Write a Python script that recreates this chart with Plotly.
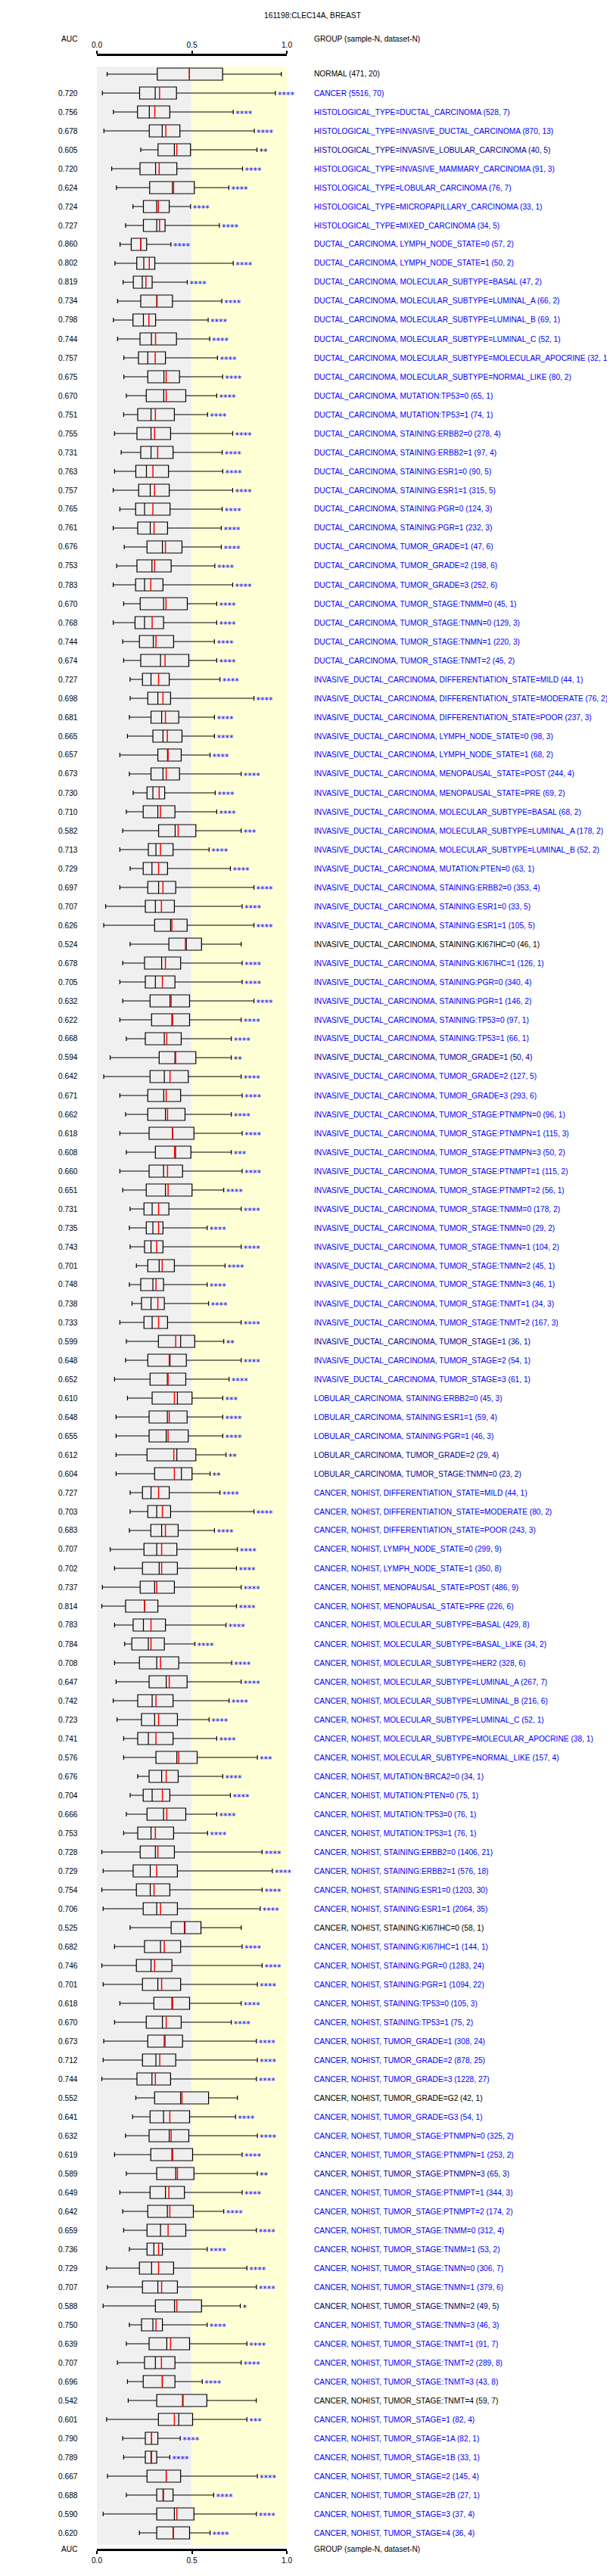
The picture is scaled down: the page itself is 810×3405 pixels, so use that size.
import plotly.graph_objects as go

TITLE = "161198:CLEC14A, BREAST"

groups = [
    "NORMAL", "CANCER",
    "HISTOLOGICAL_TYPE=DUCTAL_CARCINOMA", "HISTOLOGICAL_TYPE=INVASIVE_DUCTAL_CARCINOMA",
    "HISTOLOGICAL_TYPE=INVASIVE_LOBULAR_CARCINOMA", "HISTOLOGICAL_TYPE=INVASIVE_MAMMARY_CARCINOMA",
    "HISTOLOGICAL_TYPE=LOBULAR_CARCINOMA", "HISTOLOGICAL_TYPE=MICROPAPILLARY_CARCINOMA",
    "HISTOLOGICAL_TYPE=MIXED_CARCINOMA",
    "DUCTAL_CARCINOMA, LYMPH_NODE_STATE=0", "DUCTAL_CARCINOMA, LYMPH_NODE_STATE=1",
    "DUCTAL_CARCINOMA, MOLECULAR_SUBTYPE=BASAL", "DUCTAL_CARCINOMA, MOLECULAR_SUBTYPE=LUMINAL_A",
    "DUCTAL_CARCINOMA, MOLECULAR_SUBTYPE=LUMINAL_B", "DUCTAL_CARCINOMA, MOLECULAR_SUBTYPE=LUMINAL_C",
    "DUCTAL_CARCINOMA, MOLECULAR_SUBTYPE=MOLECULAR_APOCRINE", "DUCTAL_CARCINOMA, MOLECULAR_SUBTYPE=NORMAL_LIKE",
    "DUCTAL_CARCINOMA, MUTATION:TP53=0", "DUCTAL_CARCINOMA, MUTATION:TP53=1",
    "DUCTAL_CARCINOMA, STAINING:ERBB2=0", "DUCTAL_CARCINOMA, STAINING:ERBB2=1",
    "DUCTAL_CARCINOMA, STAINING:ESR1=0", "DUCTAL_CARCINOMA, STAINING:ESR1=1",
    "DUCTAL_CARCINOMA, STAINING:PGR=0", "DUCTAL_CARCINOMA, STAINING:PGR=1",
    "DUCTAL_CARCINOMA, TUMOR_GRADE=1", "DUCTAL_CARCINOMA, TUMOR_GRADE=2", "DUCTAL_CARCINOMA, TUMOR_GRADE=3",
    "DUCTAL_CARCINOMA, TUMOR_STAGE:TNMM=0", "DUCTAL_CARCINOMA, TUMOR_STAGE:TNMN=0",
    "DUCTAL_CARCINOMA, TUMOR_STAGE:TNMN=1", "DUCTAL_CARCINOMA, TUMOR_STAGE:TNMT=2",
    "INVASIVE_DUCTAL_CARCINOMA, DIFFERENTIATION_STATE=MILD",
    "INVASIVE_DUCTAL_CARCINOMA, DIFFERENTIATION_STATE=MODERATE",
    "INVASIVE_DUCTAL_CARCINOMA, DIFFERENTIATION_STATE=POOR",
    "INVASIVE_DUCTAL_CARCINOMA, LYMPH_NODE_STATE=0", "INVASIVE_DUCTAL_CARCINOMA, LYMPH_NODE_STATE=1",
    "INVASIVE_DUCTAL_CARCINOMA, MENOPAUSAL_STATE=POST", "INVASIVE_DUCTAL_CARCINOMA, MENOPAUSAL_STATE=PRE",
    "INVASIVE_DUCTAL_CARCINOMA, MOLECULAR_SUBTYPE=BASAL", "INVASIVE_DUCTAL_CARCINOMA, MOLECULAR_SUBTYPE=LUMINAL_A",
    "INVASIVE_DUCTAL_CARCINOMA, MOLECULAR_SUBTYPE=LUMINAL_B", "INVASIVE_DUCTAL_CARCINOMA, MUTATION:PTEN=0",
    "INVASIVE_DUCTAL_CARCINOMA, STAINING:ERBB2=0", "INVASIVE_DUCTAL_CARCINOMA, STAINING:ESR1=0",
    "INVASIVE_DUCTAL_CARCINOMA, STAINING:ESR1=1", "INVASIVE_DUCTAL_CARCINOMA, STAINING:KI67IHC=0",
    "INVASIVE_DUCTAL_CARCINOMA, STAINING:KI67IHC=1", "INVASIVE_DUCTAL_CARCINOMA, STAINING:PGR=0",
    "INVASIVE_DUCTAL_CARCINOMA, STAINING:PGR=1", "INVASIVE_DUCTAL_CARCINOMA, STAINING:TP53=0",
    "INVASIVE_DUCTAL_CARCINOMA, STAINING:TP53=1", "INVASIVE_DUCTAL_CARCINOMA, TUMOR_GRADE=1",
    "INVASIVE_DUCTAL_CARCINOMA, TUMOR_GRADE=2", "INVASIVE_DUCTAL_CARCINOMA, TUMOR_GRADE=3",
    "INVASIVE_DUCTAL_CARCINOMA, TUMOR_STAGE:PTNMPN=0", "INVASIVE_DUCTAL_CARCINOMA, TUMOR_STAGE:PTNMPN=1",
    "INVASIVE_DUCTAL_CARCINOMA, TUMOR_STAGE:PTNMPN=3", "INVASIVE_DUCTAL_CARCINOMA, TUMOR_STAGE:PTNMPT=1",
    "INVASIVE_DUCTAL_CARCINOMA, TUMOR_STAGE:PTNMPT=2", "INVASIVE_DUCTAL_CARCINOMA, TUMOR_STAGE:TNMM=0",
    "INVASIVE_DUCTAL_CARCINOMA, TUMOR_STAGE:TNMN=0", "INVASIVE_DUCTAL_CARCINOMA, TUMOR_STAGE:TNMN=1",
    "INVASIVE_DUCTAL_CARCINOMA, TUMOR_STAGE:TNMN=2", "INVASIVE_DUCTAL_CARCINOMA, TUMOR_STAGE:TNMN=3",
    "INVASIVE_DUCTAL_CARCINOMA, TUMOR_STAGE:TNMT=1", "INVASIVE_DUCTAL_CARCINOMA, TUMOR_STAGE:TNMT=2",
    "INVASIVE_DUCTAL_CARCINOMA, TUMOR_STAGE=1", "INVASIVE_DUCTAL_CARCINOMA, TUMOR_STAGE=2",
    "INVASIVE_DUCTAL_CARCINOMA, TUMOR_STAGE=3",
    "LOBULAR_CARCINOMA, STAINING:ERBB2=0", "LOBULAR_CARCINOMA, STAINING:ESR1=1",
    "LOBULAR_CARCINOMA, STAINING:PGR=1", "LOBULAR_CARCINOMA, TUMOR_GRADE=2",
    "LOBULAR_CARCINOMA, TUMOR_STAGE:TNMN=0",
    "CANCER, NOHIST, DIFFERENTIATION_STATE=MILD", "CANCER, NOHIST, DIFFERENTIATION_STATE=MODERATE",
    "CANCER, NOHIST, DIFFERENTIATION_STATE=POOR", "CANCER, NOHIST, LYMPH_NODE_STATE=0",
    "CANCER, NOHIST, LYMPH_NODE_STATE=1", "CANCER, NOHIST, MENOPAUSAL_STATE=POST",
    "CANCER, NOHIST, MENOPAUSAL_STATE=PRE", "CANCER, NOHIST, MOLECULAR_SUBTYPE=BASAL",
    "CANCER, NOHIST, MOLECULAR_SUBTYPE=BASAL_LIKE", "CANCER, NOHIST, MOLECULAR_SUBTYPE=HER2",
    "CANCER, NOHIST, MOLECULAR_SUBTYPE=LUMINAL_A", "CANCER, NOHIST, MOLECULAR_SUBTYPE=LUMINAL_B",
    "CANCER, NOHIST, MOLECULAR_SUBTYPE=LUMINAL_C", "CANCER, NOHIST, MOLECULAR_SUBTYPE=MOLECULAR_APOCRINE",
    "CANCER, NOHIST, MOLECULAR_SUBTYPE=NORMAL_LIKE", "CANCER, NOHIST, MUTATION:BRCA2=0",
    "CANCER, NOHIST, MUTATION:PTEN=0", "CANCER, NOHIST, MUTATION:TP53=0", "CANCER, NOHIST, MUTATION:TP53=1",
    "CANCER, NOHIST, STAINING:ERBB2=0", "CANCER, NOHIST, STAINING:ERBB2=1",
    "CANCER, NOHIST, STAINING:ESR1=0", "CANCER, NOHIST, STAINING:ESR1=1",
    "CANCER, NOHIST, STAINING:KI67IHC=0", "CANCER, NOHIST, STAINING:KI67IHC=1",
    "CANCER, NOHIST, STAINING:PGR=0", "CANCER, NOHIST, STAINING:PGR=1",
    "CANCER, NOHIST, STAINING:TP53=0", "CANCER, NOHIST, STAINING:TP53=1",
    "CANCER, NOHIST, TUMOR_GRADE=1", "CANCER, NOHIST, TUMOR_GRADE=2", "CANCER, NOHIST, TUMOR_GRADE=3",
    "CANCER, NOHIST, TUMOR_GRADE=G2", "CANCER, NOHIST, TUMOR_GRADE=G3",
    "CANCER, NOHIST, TUMOR_STAGE:PTNMPN=0", "CANCER, NOHIST, TUMOR_STAGE:PTNMPN=1",
    "CANCER, NOHIST, TUMOR_STAGE:PTNMPN=3", "CANCER, NOHIST, TUMOR_STAGE:PTNMPT=1",
    "CANCER, NOHIST, TUMOR_STAGE:PTNMPT=2", "CANCER, NOHIST, TUMOR_STAGE:TNMM=0",
    "CANCER, NOHIST, TUMOR_STAGE:TNMM=1", "CANCER, NOHIST, TUMOR_STAGE:TNMN=0",
    "CANCER, NOHIST, TUMOR_STAGE:TNMN=1", "CANCER, NOHIST, TUMOR_STAGE:TNMN=2",
    "CANCER, NOHIST, TUMOR_STAGE:TNMN=3", "CANCER, NOHIST, TUMOR_STAGE:TNMT=1",
    "CANCER, NOHIST, TUMOR_STAGE:TNMT=2", "CANCER, NOHIST, TUMOR_STAGE:TNMT=3",
    "CANCER, NOHIST, TUMOR_STAGE:TNMT=4", "CANCER, NOHIST, TUMOR_STAGE=1",
    "CANCER, NOHIST, TUMOR_STAGE=1A", "CANCER, NOHIST, TUMOR_STAGE=1B",
    "CANCER, NOHIST, TUMOR_STAGE=2", "CANCER, NOHIST, TUMOR_STAGE=2B",
    "CANCER, NOHIST, TUMOR_STAGE=3", "CANCER, NOHIST, TUMOR_STAGE=4",
]

sample_n = [471, 5516, 528, 870, 40, 91, 76, 33, 34, 57,
            50, 47, 66, 69, 52, 32, 80, 65, 74, 278,
            97, 90, 315, 124, 232, 47, 198, 252, 45, 129,
            220, 45, 44, 76, 237, 98, 68, 244, 69, 68,
            178, 52, 63, 353, 33, 105, 46, 126, 340, 146,
            97, 66, 50, 127, 293, 96, 115, 50, 115, 56,
            178, 29, 104, 45, 46, 34, 167, 36, 54, 61,
            45, 59, 46, 29, 23, 44, 80, 243, 299, 350,
            486, 226, 429, 34, 328, 267, 216, 52, 38, 157,
            34, 75, 76, 76, 1406, 576, 1203, 2064, 58, 144,
            1283, 1094, 105, 75, 308, 878, 1228, 42, 54, 325,
            253, 65, 344, 174, 312, 53, 306, 379, 49, 46,
            91, 289, 43, 59, 82, 82, 33, 145, 27, 37, 36]

dataset_n = [20, 70, 7, 13, 5, 3, 7, 1, 5, 2,
             2, 2, 2, 1, 1, 1, 2, 1, 1, 4,
             4, 5, 5, 3, 3, 6, 6, 6, 1, 3,
             3, 2, 1, 2, 3, 3, 2, 4, 2, 2,
             2, 2, 1, 4, 5, 5, 1, 1, 4, 2,
             1, 1, 4, 5, 6, 1, 3, 2, 2, 1,
             2, 2, 2, 1, 1, 3, 3, 1, 1, 1,
             3, 4, 3, 4, 2, 1, 2, 3, 9, 8,
             9, 6, 8, 2, 6, 7, 6, 1, 1, 4,
             1, 1, 1, 1, 21, 18, 30, 35, 1, 1,
             24, 22, 3, 2, 24, 25, 27, 1, 1, 2,
             2, 3, 3, 2, 4, 2, 7, 6, 5, 3,
             7, 8, 8, 7, 4, 1, 1, 4, 1, 4, 4]

auc = [None,
       0.720, 0.756, 0.678, 0.605, 0.720, 0.624, 0.724, 0.727, 0.860, 0.802,
       0.819, 0.734, 0.798, 0.744, 0.757, 0.675, 0.670, 0.751, 0.755, 0.731,
       0.763, 0.757, 0.765, 0.761, 0.676, 0.753, 0.783, 0.670, 0.768, 0.744,
       0.674, 0.727, 0.698, 0.681, 0.665, 0.657, 0.673, 0.730, 0.710, 0.582,
       0.713, 0.729, 0.697, 0.707, 0.626, 0.524, 0.678, 0.705, 0.632, 0.622,
       0.668, 0.594, 0.642, 0.671, 0.662, 0.618, 0.608, 0.660, 0.651, 0.731,
       0.735, 0.743, 0.701, 0.748, 0.738, 0.733, 0.599, 0.648, 0.652, 0.610,
       0.648, 0.655, 0.612, 0.604, 0.727, 0.703, 0.683, 0.707, 0.702, 0.737,
       0.814, 0.783, 0.784, 0.708, 0.647, 0.742, 0.723, 0.741, 0.576, 0.676,
       0.704, 0.666, 0.753, 0.728, 0.729, 0.754, 0.706, 0.525, 0.682, 0.746,
       0.701, 0.618, 0.670, 0.673, 0.712, 0.744, 0.552, 0.641, 0.632, 0.619,
       0.589, 0.649, 0.642, 0.659, 0.736, 0.729, 0.707, 0.588, 0.750, 0.639,
       0.707, 0.696, 0.542, 0.601, 0.790, 0.789, 0.667, 0.688, 0.590, 0.620]

stars_n = [0, 4, 4, 4, 2, 4, 4, 4, 4, 4,
           4, 4, 4, 4, 4, 4, 4, 4, 4, 4,
           4, 4, 4, 4, 4, 4, 4, 4, 4, 4,
           4, 4, 4, 4, 4, 4, 4, 4, 4, 4,
           3, 4, 4, 4, 4, 4, 0, 4, 4, 4,
           4, 4, 2, 4, 4, 4, 4, 3, 4, 4,
           4, 4, 4, 4, 4, 4, 4, 2, 4, 4,
           3, 4, 4, 2, 2, 4, 4, 4, 4, 4,
           4, 4, 4, 4, 4, 4, 4, 4, 4, 3,
           4, 4, 4, 4, 4, 4, 4, 4, 0, 4,
           4, 4, 4, 4, 4, 4, 4, 0, 4, 4,
           4, 2, 4, 4, 4, 4, 4, 4, 1, 4,
           4, 4, 4, 0, 3, 4, 4, 4, 4, 4, 4]

lo = [0.054, 0.029, 0.087, 0.037, 0.231, 0.078, 0.103, 0.190, 0.151, 0.122,
      0.095, 0.138, 0.109, 0.087, 0.109, 0.142, 0.142, 0.155, 0.141, 0.093,
      0.128, 0.093, 0.086, 0.121, 0.086, 0.144, 0.104, 0.086, 0.141, 0.086,
      0.136, 0.141, 0.175, 0.175, 0.171, 0.161, 0.121, 0.171, 0.191, 0.155,
      0.136, 0.121, 0.175, 0.121, 0.046, 0.036, 0.175, 0.136, 0.121, 0.136,
      0.121, 0.155, 0.070, 0.036, 0.121, 0.151, 0.121, 0.155, 0.121, 0.136,
      0.175, 0.171, 0.175, 0.208, 0.171, 0.185, 0.121, 0.155, 0.151, 0.093,
      0.161, 0.101, 0.101, 0.101, 0.101, 0.175, 0.175, 0.171, 0.070, 0.093,
      0.029, 0.026, 0.093, 0.146, 0.093, 0.101, 0.086, 0.106, 0.141, 0.141,
      0.215, 0.175, 0.155, 0.141, 0.026, 0.033, 0.026, 0.033, 0.175, 0.093,
      0.026, 0.033, 0.121, 0.093, 0.036, 0.033, 0.026, 0.205, 0.188, 0.151,
      0.093, 0.155, 0.121, 0.136, 0.141, 0.171, 0.051, 0.056, 0.033, 0.171,
      0.155, 0.108, 0.161, 0.165, 0.051, 0.136, 0.141, 0.056, 0.155, 0.033, 0.224]

q1 = [0.318, 0.225, 0.214, 0.276, 0.322, 0.227, 0.278, 0.245, 0.245, 0.181,
      0.210, 0.192, 0.231, 0.190, 0.227, 0.219, 0.268, 0.260, 0.215, 0.211,
      0.231, 0.205, 0.220, 0.204, 0.215, 0.264, 0.211, 0.204, 0.228, 0.201,
      0.224, 0.231, 0.240, 0.268, 0.285, 0.295, 0.321, 0.285, 0.264, 0.244,
      0.325, 0.271, 0.244, 0.268, 0.255, 0.304, 0.379, 0.251, 0.255, 0.280,
      0.288, 0.255, 0.328, 0.280, 0.268, 0.268, 0.275, 0.308, 0.275, 0.260,
      0.248, 0.260, 0.251, 0.268, 0.231, 0.235, 0.248, 0.324, 0.268, 0.280,
      0.291, 0.275, 0.275, 0.264, 0.304, 0.240, 0.268, 0.284, 0.248, 0.240,
      0.228, 0.151, 0.191, 0.184, 0.224, 0.275, 0.215, 0.235, 0.215, 0.311,
      0.275, 0.244, 0.264, 0.215, 0.228, 0.191, 0.208, 0.244, 0.391, 0.251,
      0.208, 0.240, 0.300, 0.260, 0.268, 0.240, 0.211, 0.304, 0.280, 0.275,
      0.284, 0.315, 0.280, 0.268, 0.264, 0.264, 0.224, 0.240, 0.308, 0.235,
      0.275, 0.251, 0.244, 0.315, 0.324, 0.255, 0.255, 0.264, 0.315, 0.315, 0.315]

med = [0.487, 0.307, 0.276, 0.344, 0.408, 0.309, 0.398, 0.315, 0.315, 0.231,
       0.247, 0.239, 0.315, 0.245, 0.287, 0.268, 0.353, 0.352, 0.285, 0.285,
       0.285, 0.261, 0.281, 0.251, 0.281, 0.345, 0.290, 0.251, 0.351, 0.251,
       0.297, 0.335, 0.285, 0.321, 0.341, 0.348, 0.372, 0.348, 0.295, 0.321,
       0.412, 0.311, 0.290, 0.325, 0.308, 0.388, 0.471, 0.341, 0.308, 0.385,
       0.395, 0.355, 0.411, 0.355, 0.352, 0.361, 0.398, 0.414, 0.351, 0.361,
       0.291, 0.295, 0.285, 0.328, 0.295, 0.285, 0.291, 0.441, 0.385, 0.371,
       0.424, 0.371, 0.365, 0.421, 0.445, 0.285, 0.315, 0.341, 0.315, 0.328,
       0.304, 0.251, 0.245, 0.271, 0.315, 0.365, 0.291, 0.304, 0.271, 0.421,
       0.341, 0.291, 0.351, 0.285, 0.308, 0.281, 0.281, 0.315, 0.461, 0.335,
       0.285, 0.321, 0.395, 0.345, 0.355, 0.311, 0.290, 0.441, 0.351, 0.381,
       0.395, 0.415, 0.361, 0.371, 0.335, 0.300, 0.288, 0.321, 0.409, 0.295,
       0.368, 0.308, 0.344, 0.451, 0.431, 0.288, 0.285, 0.365, 0.348, 0.408, 0.401]

mean = [0.487, 0.330, 0.305, 0.363, 0.421, 0.328, 0.404, 0.324, 0.330, 0.231,
        0.276, 0.258, 0.317, 0.274, 0.309, 0.307, 0.365, 0.365, 0.308, 0.304,
        0.320, 0.295, 0.304, 0.295, 0.301, 0.361, 0.304, 0.284, 0.364, 0.291,
        0.311, 0.359, 0.325, 0.348, 0.361, 0.371, 0.375, 0.365, 0.328, 0.335,
        0.428, 0.335, 0.325, 0.348, 0.340, 0.395, 0.466, 0.361, 0.345, 0.391,
        0.399, 0.368, 0.415, 0.385, 0.365, 0.372, 0.399, 0.409, 0.372, 0.375,
        0.325, 0.325, 0.315, 0.344, 0.311, 0.321, 0.325, 0.415, 0.381, 0.375,
        0.408, 0.381, 0.375, 0.405, 0.408, 0.325, 0.345, 0.361, 0.341, 0.341,
        0.315, 0.252, 0.285, 0.285, 0.335, 0.381, 0.311, 0.325, 0.311, 0.431,
        0.365, 0.345, 0.368, 0.308, 0.321, 0.315, 0.301, 0.335, 0.464, 0.355,
        0.304, 0.341, 0.399, 0.365, 0.359, 0.331, 0.308, 0.448, 0.384, 0.391,
        0.399, 0.424, 0.379, 0.384, 0.375, 0.325, 0.325, 0.341, 0.421, 0.311,
        0.388, 0.340, 0.345, 0.454, 0.408, 0.288, 0.288, 0.365, 0.351, 0.421, 0.403]

q3 = [0.662, 0.419, 0.384, 0.437, 0.493, 0.421, 0.513, 0.381, 0.359, 0.262,
      0.305, 0.291, 0.398, 0.309, 0.419, 0.361, 0.435, 0.468, 0.408, 0.388,
      0.401, 0.377, 0.381, 0.385, 0.372, 0.448, 0.391, 0.348, 0.476, 0.351,
      0.404, 0.484, 0.381, 0.388, 0.431, 0.448, 0.444, 0.435, 0.357, 0.411,
      0.521, 0.401, 0.372, 0.415, 0.408, 0.475, 0.551, 0.441, 0.411, 0.488,
      0.488, 0.444, 0.521, 0.481, 0.441, 0.464, 0.511, 0.495, 0.451, 0.501,
      0.379, 0.348, 0.348, 0.408, 0.351, 0.355, 0.372, 0.515, 0.471, 0.468,
      0.501, 0.475, 0.481, 0.521, 0.501, 0.381, 0.388, 0.428, 0.421, 0.424,
      0.408, 0.321, 0.361, 0.355, 0.431, 0.475, 0.401, 0.424, 0.401, 0.528,
      0.428, 0.384, 0.468, 0.404, 0.408, 0.424, 0.384, 0.424, 0.548, 0.441,
      0.395, 0.441, 0.488, 0.444, 0.451, 0.415, 0.388, 0.588, 0.488, 0.484,
      0.504, 0.511, 0.461, 0.508, 0.468, 0.345, 0.404, 0.424, 0.551, 0.345,
      0.488, 0.411, 0.411, 0.579, 0.504, 0.321, 0.315, 0.441, 0.401, 0.511, 0.488]

hi = [0.971, 0.940, 0.718, 0.829, 0.843, 0.767, 0.695, 0.493, 0.645, 0.390,
      0.718, 0.476, 0.658, 0.586, 0.594, 0.635, 0.662, 0.631, 0.583, 0.715,
      0.660, 0.663, 0.715, 0.660, 0.655, 0.655, 0.621, 0.715, 0.631, 0.631,
      0.619, 0.631, 0.648, 0.827, 0.619, 0.619, 0.596, 0.760, 0.623, 0.631,
      0.760, 0.591, 0.703, 0.827, 0.765, 0.827, 0.760, 0.765, 0.765, 0.827,
      0.760, 0.708, 0.708, 0.760, 0.765, 0.708, 0.765, 0.708, 0.765, 0.668,
      0.760, 0.581, 0.760, 0.675, 0.581, 0.588, 0.760, 0.668, 0.760, 0.696,
      0.663, 0.663, 0.663, 0.680, 0.596, 0.648, 0.827, 0.619, 0.740, 0.735,
      0.760, 0.735, 0.680, 0.516, 0.710, 0.760, 0.696, 0.591, 0.631, 0.845,
      0.663, 0.703, 0.631, 0.583, 0.870, 0.924, 0.870, 0.860, 0.760, 0.765,
      0.870, 0.845, 0.760, 0.708, 0.840, 0.845, 0.840, 0.740, 0.730, 0.845,
      0.765, 0.845, 0.765, 0.668, 0.840, 0.581, 0.790, 0.840, 0.755, 0.581,
      0.790, 0.760, 0.555, 0.839, 0.790, 0.439, 0.384, 0.845, 0.615, 0.840, 0.596]

# ---------------------------------------------------------------- layout
W, H = 810, 3405
ML, MR, MT, MB = 120, 439, 66, 44
ROW_PX = 25.0
FIRST_ROW_PX = 90.0
PLOT_W = W - ML - MR
PLOT_H = H - MT - MB
n = len(groups)
rows = list(range(n))


def px_to_row(py):
    return (py - FIRST_ROW_PX) / ROW_PX


def px_to_px(px):          # page x pixel -> paper x
    return (px - ML) / PLOT_W


def py_to_py(py):          # page y pixel -> paper y
    return (H - MB - py) / PLOT_H


def row_to_paper(i):
    return py_to_py(FIRST_ROW_PX + ROW_PX * i)


y_top = px_to_row(MT)
y_bot = px_to_row(H - MB)

FONT = "Liberation Sans, Arial, sans-serif"
FS = 10.2
BOX_W = 0.64
AUC_X = px_to_px(97)
LABEL_X = px_to_px(404.5)

color_by_stars = {4: "#0000FF", 3: "#0000FF", 2: "#000099", 1: "#000066", 0: "#000000"}
row_colors = [color_by_stars[s] for s in stars_n]
labels = [f"{g} ({a}, {b})" for g, a, b in zip(groups, sample_n, dataset_n)]
star_txt = ["*" * s for s in stars_n]

fig = go.Figure()

fig.add_trace(go.Box(
    y=rows, q1=q1, median=med, q3=q3, lowerfence=lo, upperfence=hi,
    orientation="h", boxpoints=False, width=BOX_W, whiskerwidth=0.38,
    fillcolor="#EFEFEF", line=dict(color="black", width=1.2),
    hoverinfo="skip", showlegend=False,
))

mx, my = [], []
for i, m in enumerate(mean):
    mx += [m, m, None]
    my += [i - BOX_W / 2, i + BOX_W / 2, None]
fig.add_trace(go.Scatter(x=mx, y=my, mode="lines", line=dict(color="#FF0000", width=1.5),
                         hoverinfo="skip", showlegend=False))

# significance stars right of the upper whisker (on the bottom axis so it is drawn)
fig.add_trace(go.Scatter(
    x=[h + 0.012 for h in hi], y=[i + 0.14 for i in rows], mode="text", text=star_txt,
    textposition="middle right",
    textfont=dict(family="DejaVu Sans, sans-serif", size=11, color=row_colors),
    cliponaxis=False, hoverinfo="skip", showlegend=False, xaxis="x2"))

shapes = [
    dict(type="rect", xref="x", yref="y", x0=0, x1=0.5, y0=px_to_row(80), y1=px_to_row(3356),
         fillcolor="#F0F0F0", line=dict(width=0), layer="below"),
    dict(type="rect", xref="x", yref="y", x0=0.5, x1=1.0, y0=px_to_row(80), y1=px_to_row(3356),
         fillcolor="#FFFFD5", line=dict(width=0), layer="below"),
]

axis_common = dict(range=[0, 1], tickvals=[0, 0.5, 1.0], ticktext=["0.0", "0.5", "1.0"],
                   showline=True, linecolor="black", linewidth=2.5, ticks="outside",
                   ticklen=4, tickwidth=1.5, tickcolor="black", showgrid=False, zeroline=False,
                   tickfont=dict(family=FONT, size=FS, color="black"), fixedrange=True)

annotations = []
for i in rows:
    yp = row_to_paper(i)
    if auc[i] is not None:
        annotations.append(dict(x=AUC_X, y=yp, xref="paper", yref="paper", text=f"{auc[i]:.3f}",
                                showarrow=False, xanchor="right", yanchor="middle",
                                font=dict(family=FONT, size=FS, color="black")))
    annotations.append(dict(x=LABEL_X, y=yp, xref="paper", yref="paper", text=labels[i],
                            showarrow=False, xanchor="left", yanchor="middle",
                            font=dict(family=FONT, size=FS, color=row_colors[i])))

for py in (43, 3361):
    yp = py_to_py(py)
    annotations.append(dict(x=AUC_X, y=yp, xref="paper", yref="paper", text="AUC", showarrow=False,
                            xanchor="right", yanchor="middle",
                            font=dict(family=FONT, size=FS, color="black")))
    annotations.append(dict(x=LABEL_X, y=yp, xref="paper", yref="paper",
                            text="GROUP (sample-N, dataset-N)", showarrow=False,
                            xanchor="left", yanchor="middle",
                            font=dict(family=FONT, size=FS, color="black")))

fig.update_layout(
    width=W, height=H, margin=dict(l=ML, r=MR, t=MT, b=MB, pad=0),
    paper_bgcolor="white", plot_bgcolor="white", hovermode=False, showlegend=False,
    title=dict(text=TITLE, x=0.5, xref="container", xanchor="center",
               y=1 - 12 / H, yref="container", yanchor="middle",
               font=dict(family=FONT, size=FS, color="black")),
    xaxis=dict(side="top", anchor="y", **axis_common),
    xaxis2=dict(side="bottom", anchor="y", overlaying="x", matches="x", **axis_common),
    yaxis=dict(range=[y_bot, y_top], visible=False, fixedrange=True),
    shapes=shapes, annotations=annotations,
)

fig.write_html("out.html")
